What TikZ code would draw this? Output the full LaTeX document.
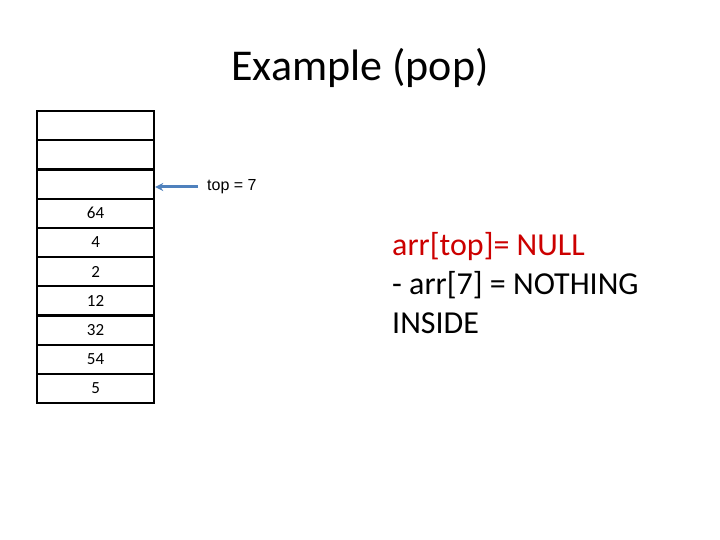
\documentclass[tikz,border=0pt]{standalone}
\usepackage{fontspec}
\setmainfont{Carlito}
\newfontfamily\arialf{Liberation Sans}
\usetikzlibrary{arrows.meta}
\definecolor{offblue}{RGB}{79,129,189}
\definecolor{offred}{RGB}{204,0,0}
\tikzset{
  cell/.style={draw=black, line width=2.2pt, minimum width=117pt, minimum height=29.2pt, inner sep=0pt, anchor=north west, font=\fontsize{17}{20}\selectfont},
  note/.style={anchor=base west, inner sep=0pt, font=\fontsize{32}{38}\selectfont},
}
\begin{document}
\begin{tikzpicture}[x=1pt,y=-1pt]
\useasboundingbox (0,0) rectangle (720,540);
\node[anchor=base, font=\fontsize{44}{52}\selectfont] (title) at (360,81) {Example (pop)};
\foreach \i/\v in {0/,1/,2/,3/64,4/4,5/2,6/12,7/32,8/54,9/5}{
  \node[cell] (c\i) at (36,110+29.2*\i) {\v};
}
\node[anchor=west, inner sep=0pt, font=\arialf\fontsize{16}{19}\selectfont] (toplab) at (207,187) {top = 7};
\draw[offblue, line width=3pt, -{Stealth[length=8pt,width=8pt]}] (toplab.west) ++(-9,0) coordinate (as) -- (c2.east |- as);
\node[note, text=offred] (l1) at (392,255) {arr[top]= NULL};
\node[note] (l2) at (392,294) {- arr[7] = NOTHING};
\node[note] (l3) at (392,333) {INSIDE};
\end{tikzpicture}
\end{document}
